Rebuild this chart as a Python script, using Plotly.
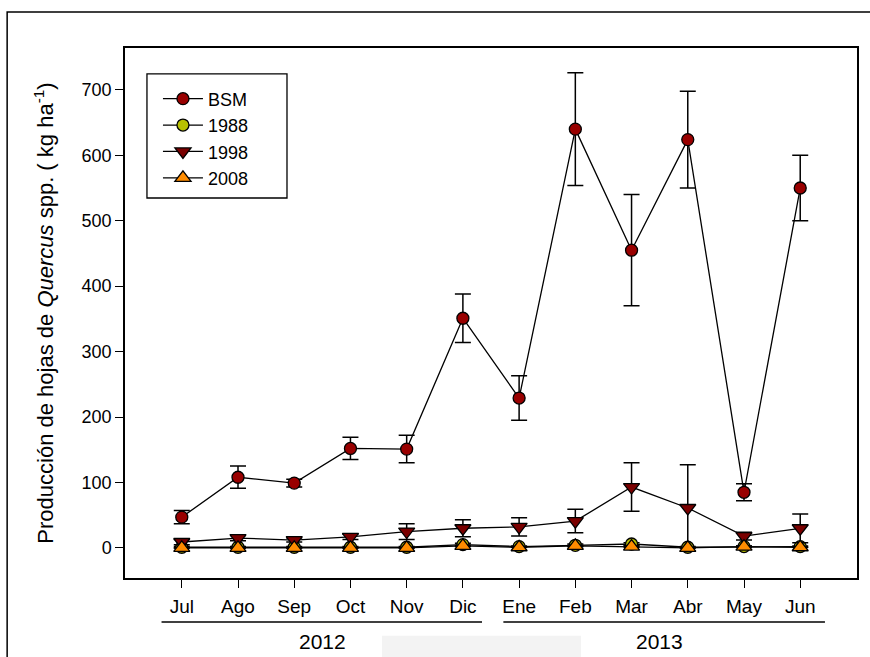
import plotly.graph_objects as go

months = ["Jul", "Ago", "Sep", "Oct", "Nov", "Dic", "Ene", "Feb", "Mar", "Abr", "May", "Jun"]

bsm = [47, 108, 99, 152, 151, 351, 229, 640, 455, 624, 85, 550]
bsm_err = [10, 17, 6, 17, 21, 37, 34, 86, 85, 74, 13, 50]

y1988 = [1, 1, 1, 1, 1, 5, 2, 4, 6, 1, 2, 2]
y1988_err = [1, 1, 1, 1, 1, 2, 1, 2, 2, 1, 1, 1]

y1998 = [9, 15, 12, 17, 25, 30, 32, 41, 93, 61, 18, 30]
y1998_err = [4, 4, 3, 4, 12, 13, 14, 18, 37, 66, 6, 22]

y2008 = [0, 0, 0, 0, 0, 3, 1, 3, 2, 0, 2, 1]
y2008_err = [0, 0, 0, 0, 0, 1, 0, 1, 1, 0, 1, 0]

years = ["2012", "2013"]

FONT = "Liberation Sans, Arial, sans-serif"

fig = go.Figure()

def add(name, y, err, symbol, color, size):
    fig.add_trace(go.Scatter(
        x=months, y=y, name=name, mode="lines+markers",
        line=dict(color="black", width=1.3),
        marker=dict(symbol=symbol, color=color, size=size,
                    line=dict(color="black", width=1.3)),
        error_y=dict(type="data", array=err, visible=True,
                     color="black", thickness=1.5, width=8),
    ))

add("BSM", bsm, bsm_err, "circle", "#990000", 12)
add("1988", y1988, y1988_err, "circle", "#b8c000", 12)
add("1998", y1998, y1998_err, "triangle-down", "#7a0000", 14)
add("2008", y2008, y2008_err, "triangle-up", "#ff8c00", 14)

shapes = [
    # outer frame (partially off-canvas)
    dict(type="rect", xref="paper", yref="paper", x0=-0.161, x1=1.2, y0=-0.3, y1=1.068,
         line=dict(color="black", width=1.5), fillcolor="rgba(0,0,0,0)", layer="below"),
    # legend frame
    dict(type="rect", xref="paper", yref="paper", x0=0.030, x1=0.2213, y0=0.717, y1=0.951,
         line=dict(color="black", width=1.3), fillcolor="white", layer="below"),
    # light grey patch
    dict(type="rect", xref="x", yref="paper", x0=3.56, x1=7.1, y0=-0.2, y1=-0.109,
         line=dict(width=0), fillcolor="#f3f3f3", layer="below"),
    # year underlines
    dict(type="line", xref="x", yref="paper", x0=-0.36, x1=5.34, y0=-0.083, y1=-0.083,
         line=dict(color="#404040", width=2)),
    dict(type="line", xref="x", yref="paper", x0=5.72, x1=11.44, y0=-0.083, y1=-0.083,
         line=dict(color="#404040", width=2)),
]

annotations = [
    dict(text=years[0], xref="x", yref="paper", x=2.5, y=-0.119, showarrow=False,
         font=dict(size=21, color="black", family=FONT), yanchor="middle"),
    dict(text=years[1], xref="x", yref="paper", x=8.5, y=-0.119, showarrow=False,
         font=dict(size=21, color="black", family=FONT), yanchor="middle"),
]

fig.update_layout(
    width=870, height=657,
    margin=dict(l=125, r=13, t=48, b=79),
    paper_bgcolor="white", plot_bgcolor="white",
    font=dict(family=FONT, size=18, color="black"),
    showlegend=True,
    legend=dict(x=0.030, y=0.951, xanchor="left", yanchor="top",
                borderwidth=0, bgcolor="rgba(0,0,0,0)",
                font=dict(size=18), itemwidth=40, tracegroupgap=0,
                indentation=11,
                title=dict(text=" ", font=dict(size=5))),
    shapes=shapes,
    annotations=annotations,
    xaxis=dict(type="category", range=[-1.01, 12.01], showgrid=False, zeroline=False,
               showline=True, linecolor="black", linewidth=1.5, mirror=True,
               ticks="outside", ticklen=8, tickcolor="black", tickwidth=1.3,
               tickfont=dict(size=19), ticklabelstandoff=2),
    yaxis=dict(range=[-46, 764], showgrid=False, zeroline=False,
               showline=True, linecolor="black", linewidth=1.5, mirror=True,
               ticks="outside", ticklen=8, tickcolor="black", tickwidth=1.3,
               tickvals=[0, 100, 200, 300, 400, 500, 600, 700],
               tickfont=dict(size=18),
               title=dict(text="Producción de hojas de <i>Quercus</i> spp. ( kg ha<sup>-1</sup>)",
                          font=dict(size=22), standoff=22)),
)

fig.write_html("out.html", config={"displayModeBar": False},
               post_script="document.body.style.margin='0';")
